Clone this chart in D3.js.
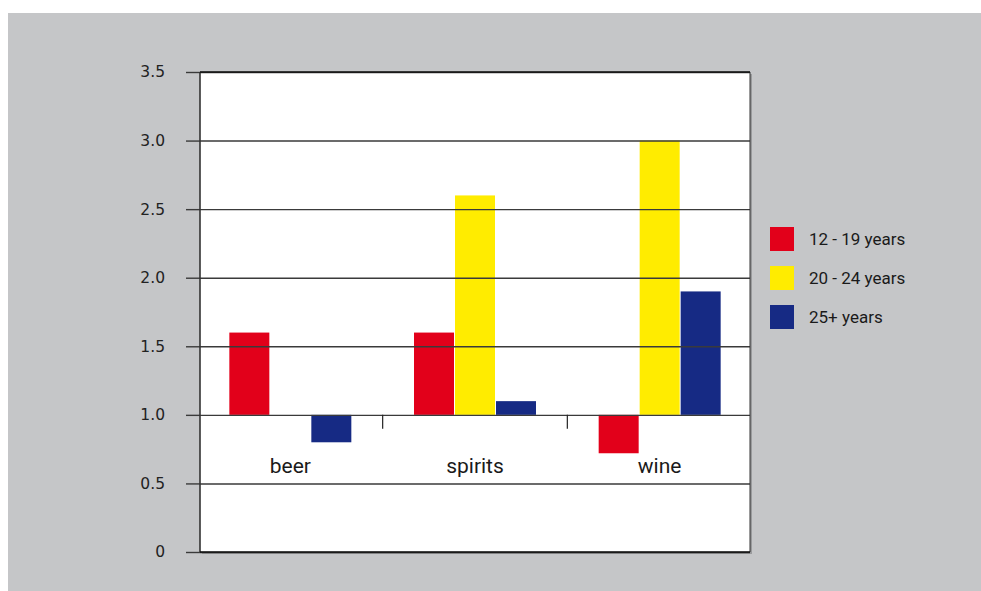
<!DOCTYPE html>
<html><head><meta charset="utf-8">
<script src="https://cdn.jsdelivr.net/npm/d3@7"></script>
<style>html,body{margin:0;padding:0;background:#fff;}svg{display:block;}</style>
</head><body>
<svg id="chart" width="981" height="591"></svg>
<script>
const categories = ["beer", "spirits", "wine"];
const seriesNames = ["12 - 19 years", "20 - 24 years", "25+ years"];
const values12to19 = [1.6, 1.6, 0.72];
const values20to24 = [1.0, 2.6, 3.0];
const values25plus = [0.8, 1.1, 1.9];
const yTicks = [0, 0.5, 1.0, 1.5, 2.0, 2.5, 3.0, 3.5];
const yTickLabels = ["0", "0.5", "1.0", "1.5", "2.0", "2.5", "3.0", "3.5"];
const baseline = 1.0;
const colors = ["#E2001A", "#FFEC00", "#162A84"];

const seriesValues = [values12to19, values20to24, values25plus];
const data = categories.map((c, i) => ({cat: c, vals: seriesNames.map((s, j) => ({s, j, v: seriesValues[j][i]}))}));

const svg = d3.select("#chart");
svg.append("rect").attr("x", 8).attr("y", 13).attr("width", 973).attr("height", 578).attr("fill", "#C5C6C8");

const L = 200, R = 750, T = 72, B = 552;
const x = d3.scaleBand().domain(categories).range([198, 752]).paddingInner(0.334).paddingOuter(0.167);
const xs = d3.scaleBand().domain(seriesNames).range([0, x.bandwidth()]).padding(0);
const y = d3.scaleLinear().domain([0, 3.5]).range([B, T]);

// shadow + plot area
svg.append("rect").attr("x", L + 2).attr("y", T + 2).attr("width", R - L).attr("height", B - T).attr("fill", "#9a9b9d");
svg.append("rect").attr("x", L).attr("y", T).attr("width", R - L).attr("height", B - T).attr("fill", "#fff");

// bars
const g = svg.append("g");
data.forEach(d => {
  g.selectAll(null).data(d.vals).enter().append("rect")
    .attr("x", e => x(d.cat) + xs(e.s) + 0.5)
    .attr("width", xs.bandwidth() - 1)
    .attr("y", e => y(Math.max(e.v, baseline)))
    .attr("height", e => Math.abs(y(e.v) - y(baseline)))
    .attr("fill", e => colors[e.j]);
});

// gridlines
const yAxis = d3.axisLeft(y).tickValues(yTicks).tickSize(-(R - L)).tickPadding(0).tickFormat("");
const ga = svg.append("g").attr("transform", `translate(${L},0)`).call(yAxis);
ga.select(".domain").remove();
ga.selectAll(".tick line").attr("stroke", "#3a3a3a").attr("stroke-width", 1.4);

// outer tick marks + labels
const yAxis2 = d3.axisLeft(y).tickValues(yTicks).tickSize(14).tickPadding(21)
  .tickFormat((d, i) => yTickLabels[i]);
const gb = svg.append("g").attr("transform", `translate(${L},0)`).call(yAxis2);
gb.select(".domain").remove();
gb.selectAll(".tick line").attr("stroke", "#3a3a3a").attr("stroke-width", 1.4);
gb.selectAll(".tick text").attr("font-family", "DejaVu Sans, sans-serif").attr("font-size", 15.5).attr("fill", "#222");

// frame
svg.append("line").attr("x1", L).attr("x2", L).attr("y1", T).attr("y2", B).attr("stroke", "#333").attr("stroke-width", 1.6);
svg.append("line").attr("x1", R).attr("x2", R).attr("y1", T).attr("y2", B).attr("stroke", "#333").attr("stroke-width", 1);
svg.append("line").attr("x1", L).attr("x2", R).attr("y1", T).attr("y2", T).attr("stroke", "#111").attr("stroke-width", 1.4);
svg.append("line").attr("x1", L).attr("x2", R).attr("y1", B).attr("y2", B).attr("stroke", "#111").attr("stroke-width", 1.4);

// category separators below baseline
const seps = categories.slice(1).map(c => x(c) - x.step() * x.paddingInner() / 2);
svg.selectAll(null).data(seps).enter().append("line")
  .attr("x1", d => d).attr("x2", d => d)
  .attr("y1", y(baseline)).attr("y2", y(baseline) + 14)
  .attr("stroke", "#222").attr("stroke-width", 1.2);

// category labels
svg.selectAll(null).data(categories).enter().append("text")
  .attr("x", d => x(d) + x.bandwidth() / 2)
  .attr("y", 473)
  .attr("text-anchor", "middle")
  .attr("font-family", "Roboto, sans-serif").attr("font-size", 21).attr("fill", "#1a1a1a")
  .text(d => d);

// legend
const lg = svg.append("g");
seriesNames.forEach((s, i) => {
  lg.append("rect").attr("x", 770).attr("y", 227 + i * 39).attr("width", 24).attr("height", 24).attr("fill", colors[i]);
  lg.append("text").attr("x", 809).attr("y", 239 + i * 39).attr("dy", "0.35em")
    .attr("font-family", "Roboto, sans-serif").attr("font-size", 17).attr("fill", "#1a1a1a").text(s);
});
</script>
</body></html>
